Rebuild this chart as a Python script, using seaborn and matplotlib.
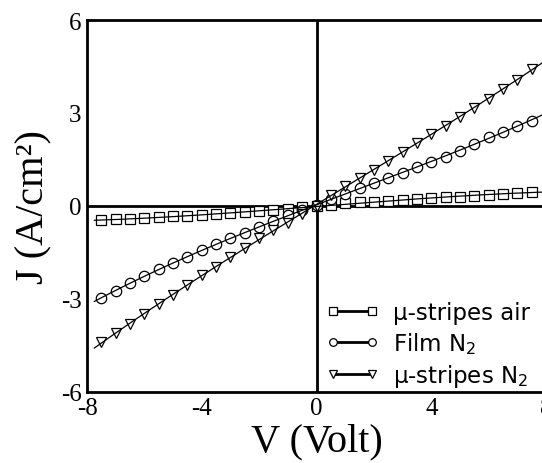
import matplotlib
matplotlib.use("Agg")
import matplotlib.pyplot as plt
import numpy as np
import pandas as pd
import seaborn as sns

# bias voltage steps (V), shared by all three series
volts = [-7.5, -7.0, -6.5, -6.0, -5.5, -5.0, -4.5, -4.0, -3.5, -3.0, -2.5,
         -2.0, -1.5, -1.0, -0.5, 0.0, 0.5, 1.0, 1.5, 2.0, 2.5, 3.0, 3.5,
         4.0, 4.5, 5.0, 5.5, 6.0, 6.5, 7.0, 7.5]

# current density (A/cm^2)
j_stripes_air = [-0.46, -0.44, -0.42, -0.39, -0.37, -0.34, -0.32, -0.29, -0.27,
                 -0.24, -0.21, -0.18, -0.14, -0.10, -0.05, 0.00, 0.04, 0.08,
                 0.11, 0.14, 0.16, 0.19, 0.21, 0.24, 0.27, 0.30, 0.33, 0.36,
                 0.39, 0.42, 0.45]
j_film_n2 = [-2.96, -2.74, -2.49, -2.27, -2.05, -1.85, -1.66, -1.44, -1.24,
             -1.04, -0.88, -0.69, -0.48, -0.30, -0.14, 0.02, 0.22, 0.38,
             0.57, 0.74, 0.90, 1.07, 1.24, 1.42, 1.59, 1.77, 2.01, 2.22,
             2.39, 2.58, 2.75]
j_stripes_n2 = [-4.39, -4.12, -3.80, -3.48, -3.18, -2.87, -2.56, -2.24, -1.97,
                -1.66, -1.35, -1.05, -0.79, -0.54, -0.26, 0.00, 0.34, 0.65,
                0.89, 1.16, 1.44, 1.74, 2.04, 2.33, 2.58, 2.87, 3.16, 3.46,
                3.78, 4.07, 4.41]

labels = ["\u03bc-stripes air", "Film N$_2$", "\u03bc-stripes N$_2$"]
markers = ["s", "o", "v"]
x_ticks = [-8, -4, 0, 4, 8]
y_ticks = [-6, -3, 0, 3, 6]

sns.set_style("white")
plt.rcParams["axes.unicode_minus"] = False
plt.rcParams["text.color"] = "black"
plt.rcParams["axes.labelcolor"] = "black"
plt.rcParams["xtick.color"] = "black"
plt.rcParams["ytick.color"] = "black"

fig = plt.figure(figsize=(5.42, 4.64), dpi=100)
ax = fig.add_axes([87 / 542, 1 - 392.7 / 464, 459 / 542, 371.7 / 464])

series = [j_stripes_air, j_film_n2, j_stripes_n2]
fit_x = np.linspace(-7.75, 8.0, 200)
handles = []
for js, mk, lab in zip(series, markers, labels):
    df = pd.DataFrame({"V": volts, "J": js})
    # smooth fit curve through the measured points (thin line in the original)
    coef = np.polyfit(df["V"], df["J"], 3)
    fit = pd.DataFrame({"V": fit_x, "J": np.polyval(coef, fit_x)})
    sns.lineplot(data=fit, x="V", y="J", ax=ax, color="black", lw=0.9,
                 zorder=3)
    ax.plot(df["V"], df["J"], linestyle="none", marker=mk, ms=7.5,
            mfc="white", mec="black", mew=0.9, zorder=2)
    h, = ax.plot([], [], color="black", lw=2, marker=mk, ms=5.5,
                 mfc="white", mec="black", mew=0.9)
    handles.append(h)

ax.axhline(0, color="black", lw=2, zorder=1)
ax.axvline(0, color="black", lw=2, zorder=1)

ax.set_xlim(-8, 8)
ax.set_ylim(-6, 6)
ax.set_xticks(x_ticks)
ax.set_yticks(y_ticks)
ax.tick_params(length=0, pad=4, labelcolor="black")
for t in ax.get_xticklabels() + ax.get_yticklabels():
    t.set_fontfamily("Liberation Serif")
    t.set_fontsize(18)
for s in ax.spines.values():
    s.set_linewidth(2)
    s.set_color("black")

ax.set_xlabel("V (Volt)", fontfamily="Liberation Serif", fontsize=29,
              labelpad=2, color="black")
ax.set_ylabel("J (A/cm\u00b2)", fontfamily="Liberation Serif", fontsize=29,
              labelpad=6, color="black")

leg = ax.legend(handles, labels, loc="lower left",
                bbox_to_anchor=(0.52, 0.008), frameon=False, numpoints=2,
                handlelength=2.3, handletextpad=0.65, labelspacing=0.25,
                borderpad=0, borderaxespad=0,
                prop={"family": "DejaVu Sans", "size": 16.5})
for t in leg.get_texts():
    t.set_color("black")

fig.savefig("out.png", dpi=100)
